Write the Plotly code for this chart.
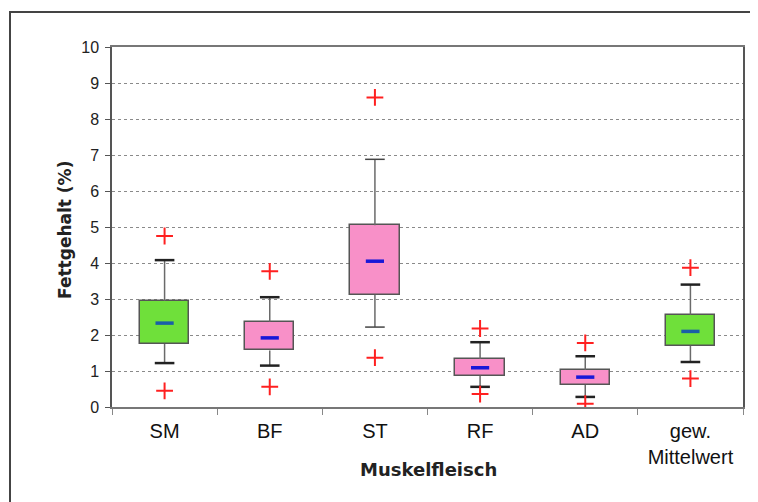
import plotly.graph_objects as go

categories = ["SM", "BF", "ST", "RF", "AD", "gew.<br>Mittelwert"]
q1 = [1.75, 1.57, 3.12, 0.87, 0.61, 1.70]
q3 = [2.95, 2.37, 5.05, 1.33, 1.03, 2.56]
mean = [2.33, 1.92, 4.05, 1.09, 0.83, 2.10]
lower = [1.22, 1.15, 2.22, 0.56, 0.28, 1.25]
upper = [4.08, 3.05, 6.88, 1.80, 1.41, 3.40]
out_hi = [4.75, 3.77, 8.60, 2.18, 1.78, 3.87]
out_lo = [0.45, 0.56, 1.37, 0.36, 0.09, 0.79]
groups = ["green", "pink", "pink", "pink", "pink", "green"]

fill = {"green": "#6fe03a", "pink": "#f890c8"}
dash_col = {"green": "#1a5fa8", "pink": "#1818d8"}
cap_w = {"SM": 2.5, "BF": 2.5, "ST": 1.5, "RF": 2.5, "AD": 2.5}

# page has an 8px body margin; figure is sized to fill the rest of the window
OFF = 8
W, H = 758 - OFF, 502 - OFF
L, T = 112 - OFF, 47 - OFF
R = 758 - 743
B = 502 - 407
pw, ph = W - L - R, H - T - B

fig = go.Figure()

fig.add_trace(go.Bar(
    x=categories, y=[b - a for a, b in zip(q1, q3)], base=q1, width=0.47,
    marker=dict(color=[fill[g] for g in groups], line=dict(color="#555555", width=1.5)),
    hoverinfo="skip", showlegend=False))

wx, wy = [], []
for c, a, b, lo, hi in zip(categories, q1, q3, lower, upper):
    wx += [c, c, None, c, c, None]
    wy += [b, hi, None, a, lo, None]
fig.add_trace(go.Scatter(x=wx, y=wy, mode="lines", line=dict(color="#6a6a6a", width=1.5),
                         hoverinfo="skip", showlegend=False))

cw = [cap_w.get(c, 2.5) for c in categories]
cc = ["#444444" if cap_w.get(c, 2.5) < 2 else "#222222" for c in categories]
fig.add_trace(go.Scatter(
    x=categories + categories, y=upper + lower, mode="markers",
    marker=dict(symbol="line-ew", size=14, line=dict(color=cc + cc, width=cw + cw)),
    hoverinfo="skip", showlegend=False))

fig.add_trace(go.Scatter(
    x=categories, y=mean, mode="markers",
    marker=dict(symbol="line-ew", size=13,
                line=dict(color=[dash_col[g] for g in groups], width=3.5)),
    hoverinfo="skip", showlegend=False))

fig.add_trace(go.Scatter(
    x=categories + categories, y=out_hi + out_lo, mode="markers",
    marker=dict(symbol="cross-thin", size=12, line=dict(color="#ff2020", width=2)),
    hoverinfo="skip", showlegend=False))

# outer frame
fig.add_shape(type="rect", xref="paper", yref="paper",
              x0=(10 - 112) / pw, x1=(770 - 112) / pw,
              y0=-(515 - 407) / ph, y1=(407 - 12) / ph,
              line=dict(color="#444444", width=2), fillcolor="rgba(0,0,0,0)")

# axis titles
fig.add_annotation(text="<b>Muskelfleisch</b>", xref="paper", yref="paper",
                   x=(428 - 112) / pw, y=-(469 - 407) / ph, showarrow=False,
                   xanchor="center", yanchor="middle",
                   font=dict(family="DejaVu Sans", size=18, color="#222222"))
fig.add_annotation(text="<b>Fettgehalt (%)</b>", xref="paper", yref="paper",
                   x=-(112 - 65) / pw, y=(407 - 230) / ph, showarrow=False, textangle=-90,
                   xanchor="center", yanchor="middle",
                   font=dict(family="DejaVu Sans", size=17, color="#222222"))

fig.update_layout(
    width=W, height=H,
    margin=dict(l=L, r=R, t=T, b=B, autoexpand=False),
    paper_bgcolor="white", plot_bgcolor="white",
    font=dict(family="Liberation Sans, Arial, sans-serif", color="#111111"),
    bargap=0,
)
fig.update_xaxes(
    type="category", range=[-0.5, 5.5], tickson="boundaries",
    ticks="outside", ticklen=6, tickcolor="#888888",
    showline=True, linecolor="#777777", linewidth=1.5, mirror=True,
    showgrid=False, tickfont=dict(size=20), ticklabelstandoff=5, automargin=False,
)
fig.update_yaxes(
    range=[0, 10], dtick=1, ticks="outside", ticklen=5, tickcolor="#555555",
    showline=True, linecolor="#555555", linewidth=1.5, mirror=True,
    showgrid=True, gridcolor="#8a8a8a", griddash="dot", gridwidth=1,
    zeroline=False, tickfont=dict(size=16, color="#222222"), ticklabelstandoff=3,
    automargin=False,
)

fig.write_html("out.html")
